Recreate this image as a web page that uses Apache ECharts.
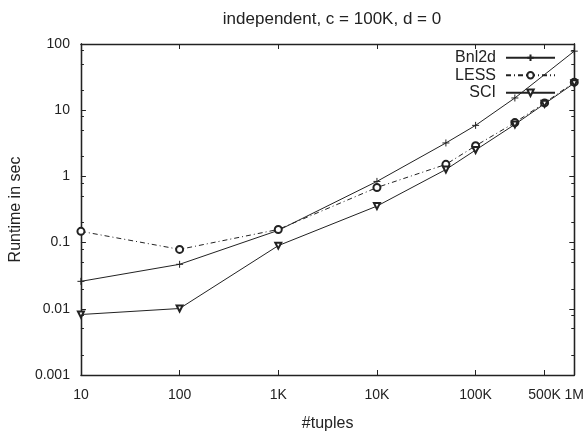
<!DOCTYPE html>
<html>
<head>
<meta charset="utf-8">
<script src="https://cdn.jsdelivr.net/npm/echarts@6/dist/echarts.min.js"></script>
<style>html,body{margin:0;padding:0;background:#fff;}#c{width:587px;height:437px;}</style>
</head>
<body>
<div id="c"></div>
<script>
// ---- data ----
var tuples = [10, 100, 1000, 10000, 50000, 100000, 250000, 500000, 1000000];
var bnl2d = [0.026, 0.047, 0.153, 0.84, 3.2, 5.9, 15.3, null, 78];
var less  = [0.148, 0.079, 0.158, 0.68, 1.52, 2.9, 6.5, 12.9, 26.5];
var sci   = [0.0082, 0.0101, 0.090, 0.356, 1.27, 2.5, 6.1, 12.5, 25.6];
var xTickValues = [10, 100, 1000, 10000, 100000, 500000, 1000000];
var xTickLabels = ['10', '100', '1K', '10K', '100K', '500K', '1M'];
var yTickValues = [0.001, 0.01, 0.1, 1, 10, 100];
var yTickLabels = ['0.001', '0.01', '0.1', '1', '10', '100'];
var yMinorValues = [0.002, 0.005, 0.008, 0.02, 0.05, 0.08, 0.2, 0.5, 0.8, 2, 5, 8, 20, 50, 80];

function pairs(ys) {
  var out = [];
  for (var i = 0; i < tuples.length; i++) if (ys[i] != null) out.push([tuples[i], ys[i]]);
  return out;
}
function findLabel(vals, labels, v) {
  for (var k = 0; k < vals.length; k++) if (Math.abs(vals[k] - v) / vals[k] < 1e-6) return labels[k];
  return '';
}

var FONT = 'Liberation Sans';
var INK = '#222';
var chart = echarts.init(document.getElementById('c'), null, {renderer: 'canvas'});

function xAx(pos, showLabels) {
  return {
    type: 'log', logBase: 10, min: 10, max: 1000000, position: pos,
    name: showLabels ? '#tuples' : '', nameLocation: 'middle', nameGap: 41,
    nameTextStyle: {fontFamily: FONT, fontSize: 16, color: INK},
    axisLine: {show: true, onZero: false, lineStyle: {color: INK, width: 1.3}},
    axisTick: {show: true, inside: true, length: 5, customValues: xTickValues, lineStyle: {color: INK}},
    axisLabel: {show: showLabels, customValues: xTickValues, margin: 13, fontFamily: FONT, fontSize: 14, color: INK,
      formatter: function (v) { return findLabel(xTickValues, xTickLabels, v); }},
    splitLine: {show: false}, minorTick: {show: false}
  };
}
function yAx(pos, showLabels, minor) {
  return {
    type: 'log', logBase: 10, min: 0.001, max: 100, position: pos,
    name: showLabels ? 'Runtime in sec' : '', nameLocation: 'middle', nameGap: 53,
    nameTextStyle: {fontFamily: FONT, fontSize: 16, color: INK},
    axisLine: {show: true, onZero: false, lineStyle: {color: INK, width: 1.3}},
    axisTick: {show: true, inside: true, length: minor ? 3 : 5, customValues: minor ? yMinorValues : yTickValues, lineStyle: {color: INK}},
    axisLabel: {show: showLabels, customValues: yTickValues, margin: 11, fontFamily: FONT, fontSize: 14, color: INK,
      formatter: function (v) { return findLabel(yTickValues, yTickLabels, v); }},
    splitLine: {show: false}, minorTick: {show: false}
  };
}

var option = {
  animation: false,
  backgroundColor: '#fff',
  title: {
    text: 'independent, c = 100K, d = 0', left: 327, top: 6, textAlign: 'center',
    textStyle: {fontFamily: FONT, fontSize: 17, fontWeight: 'normal', color: INK}
  },
  legend: {
    orient: 'vertical', right: 31, top: 49, align: 'right', padding: 0,
    itemWidth: 49, itemHeight: 8, itemGap: 0,
    textStyle: {fontFamily: FONT, fontSize: 16, lineHeight: 17.5, color: INK, padding: [0, 5, 0, 0]},
    data: ['Bnl2d', 'LESS', 'SCI']
  },
  grid: {left: 78, right: 11, top: 44, bottom: 57, containLabel: false},
  xAxis: [xAx('bottom', true), xAx('top', false)],
  yAxis: [yAx('left', true, false), yAx('left', false, true), yAx('right', false, false), yAx('right', false, true)],
  series: [
    {
      name: 'Bnl2d', type: 'line', data: pairs(bnl2d), xAxisIndex: 0, yAxisIndex: 0,
      symbol: 'path://M0,5L10,5M5,0L5,10', symbolSize: 7, showAllSymbol: true,
      lineStyle: {color: INK, width: 1},
      itemStyle: {color: 'none', borderColor: INK, borderWidth: 1}
    },
    {
      name: 'LESS', type: 'line', data: pairs(less), xAxisIndex: 0, yAxisIndex: 0,
      symbol: 'emptyCircle', symbolSize: 7, showAllSymbol: true,
      lineStyle: {color: INK, width: 1, type: [5, 3, 1, 3]},
      itemStyle: {color: INK, borderColor: INK, borderWidth: 1}
    },
    {
      name: 'SCI', type: 'line', data: pairs(sci), xAxisIndex: 0, yAxisIndex: 0,
      symbol: 'emptyTriangle', symbolRotate: 180, symbolSize: 6, showAllSymbol: true,
      lineStyle: {color: INK, width: 1},
      itemStyle: {color: INK, borderColor: INK, borderWidth: 1}
    }
  ]
};
chart.setOption(option);
</script>
</body>
</html>
